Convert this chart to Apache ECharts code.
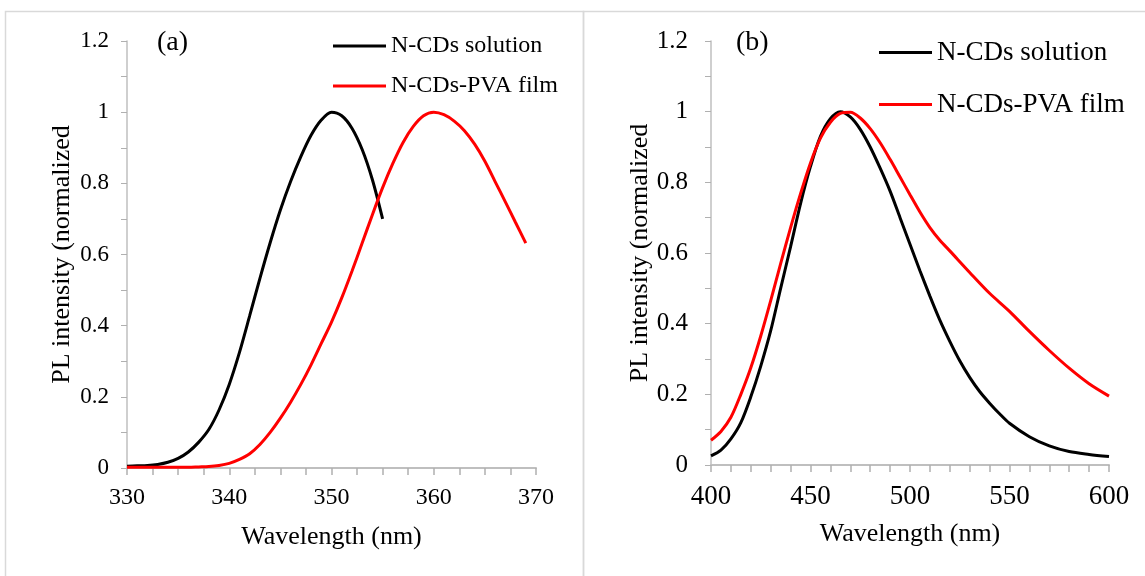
<!DOCTYPE html>
<html>
<head>
    <meta charset="utf-8">
    <title>PL spectra</title>
    <script src="https://cdn.jsdelivr.net/npm/echarts@6/dist/echarts.min.js"></script>
    <style>
        html, body { margin: 0; padding: 0; background: #fff; }
    </style>
</head>
<body>
    <div id="chart" style="width: 1145px; height: 576px;"></div>

    <script>
        // (a) excitation spectra
        const aWlSolution = [330,331,332,333,334,335,336,337,338,339,340,341,342,343,344,345,346,347,348,349,350,351,352,353,354,355];
        const aSolution = [0.005,0.006,0.007,0.010,0.016,0.027,0.045,0.072,0.108,0.163,0.235,0.325,0.428,0.533,0.633,0.725,0.805,0.875,0.935,0.978,1.0,0.99,0.955,0.895,0.81,0.70];
        const aWlFilm = [330,332,334,336,337,338,339,340,341,342,343,344,345,346,347,348,349,350,351,352,353,354,355,356,357,358,359,360,361,362,363,364,365,366,367,368,369];
        const aFilm = [0.002,0.002,0.002,0.002,0.003,0.004,0.007,0.013,0.024,0.04,0.066,0.10,0.14,0.185,0.235,0.29,0.35,0.41,0.478,0.553,0.632,0.712,0.788,0.856,0.915,0.96,0.99,1.0,0.993,0.975,0.948,0.91,0.862,0.805,0.748,0.69,0.632];

        // (b) emission spectra
        const bWlSolution = [400,405,410,415,420,425,430,435,440,445,450,455,460,465,470,475,480,485,490,495,500,505,510,515,520,525,530,535,540,545,550,560,570,580,590,600];
        const bSolution = [0.026,0.042,0.074,0.12,0.193,0.28,0.38,0.5,0.618,0.74,0.845,0.93,0.98,1.0,0.985,0.95,0.9,0.84,0.775,0.70,0.625,0.55,0.478,0.41,0.35,0.295,0.248,0.208,0.175,0.145,0.118,0.08,0.054,0.038,0.03,0.024];
        const bWlFilm = [400,405,410,415,420,425,430,435,440,445,450,455,460,465,470,475,480,485,490,495,500,505,510,515,520,530,540,550,560,570,580,590,600];
        const bFilm = [0.07,0.095,0.135,0.2,0.275,0.365,0.465,0.57,0.672,0.768,0.855,0.925,0.97,0.995,0.998,0.982,0.952,0.912,0.865,0.815,0.765,0.716,0.672,0.636,0.606,0.545,0.486,0.435,0.378,0.324,0.274,0.23,0.195];

        const seriesNames = ['N-CDs solution', 'N-CDs-PVA film'];
        const panelLabels = ['(a)', '(b)'];

        const FONT = 'Liberation Serif';
        const AXIS_GRAY = '#bfbfbf';
        const TICK_GRAY = '#b0b0b0';

        const pairs = (xs, ys) => xs.map((x, i) => [x, ys[i]]);
        const fmt = v => String(Math.round(v * 10) / 10);

        function xAxisFor(gridIndex, min, max, interval, minorSplit, labelSize, margin) {
            return {
                type: 'value', gridIndex, min, max, interval,
                position: 'bottom', z: 1,
                name: 'Wavelength (nm)', nameLocation: 'middle', nameGap: 56,
                nameTextStyle: { fontFamily: FONT, fontSize: 26, color: '#000' },
                axisLine: { show: true, onZero: false, lineStyle: { color: AXIS_GRAY, width: 2 } },
                axisTick: { show: true, length: 7, lineStyle: { color: TICK_GRAY, width: 1.5 } },
                minorTick: { show: true, splitNumber: minorSplit, length: 7, lineStyle: { color: TICK_GRAY, width: 1.5 } },
                axisLabel: { fontFamily: FONT, fontSize: labelSize, color: '#000', margin },
                splitLine: { show: false }
            };
        }

        function yAxisFor(gridIndex, labelSize, gap, margin) {
            return {
                type: 'value', gridIndex, min: 0, max: 1.2, interval: 0.2,
                name: 'PL intensity (normalized', nameLocation: 'middle', nameGap: gap,
                nameTextStyle: { fontFamily: FONT, fontSize: 26, color: '#000' },
                axisLine: { show: true, lineStyle: { color: AXIS_GRAY, width: 1.5 } },
                axisTick: { show: true, length: 6, lineStyle: { color: TICK_GRAY } },
                minorTick: { show: true, splitNumber: 2, length: 6, lineStyle: { color: TICK_GRAY } },
                axisLabel: { fontFamily: FONT, fontSize: labelSize, color: '#000', margin, formatter: fmt },
                splitLine: { show: false }
            };
        }

        function line(name, data, color, idx) {
            return {
                name, type: 'line', data, xAxisIndex: idx, yAxisIndex: idx,
                smooth: 0.3, symbol: 'none', showSymbol: false,
                lineStyle: { color, width: 3 }, itemStyle: { color },
                z: color === '#ff0000' ? 3 : 2
            };
        }

        const chart = echarts.init(document.getElementById('chart'), null, { renderer: 'canvas' });

        const option = {
            backgroundColor: '#fff',
            animation: false,
            grid: [
                { left: 127, top: 41, width: 409, height: 427 },
                { left: 711, top: 41, width: 398, height: 424 }
            ],
            xAxis: [
                xAxisFor(0, 330, 370, 10, 4, 24, 18),
                xAxisFor(1, 400, 600, 50, 5, 27, 18)
            ],
            yAxis: [
                yAxisFor(0, 23, 52, 18),
                yAxisFor(1, 25, 52, 23)
            ],
            legend: [
                {
                    data: seriesNames, orient: 'vertical', left: 333, top: 34, padding: 0,
                    icon: 'rect', itemWidth: 53, itemHeight: 3, itemGap: 16,
                    selectedMode: false,
                    textStyle: { fontFamily: FONT, fontSize: 24, lineHeight: 24, color: '#000' }
                },
                {
                    data: seriesNames, orient: 'vertical', left: 879, top: 39, padding: 0,
                    icon: 'rect', itemWidth: 53, itemHeight: 3, itemGap: 25,
                    selectedMode: false,
                    textStyle: { fontFamily: FONT, fontSize: 27, lineHeight: 27, color: '#000' }
                }
            ],
            graphic: [
                { type: 'rect', shape: { x: 5.5, y: 11.5, width: 578, height: 620 }, style: { fill: 'none', stroke: '#d9d9d9', lineWidth: 1.5 }, silent: true },
                { type: 'rect', shape: { x: 583.5, y: 11.5, width: 620, height: 620 }, style: { fill: 'none', stroke: '#d9d9d9', lineWidth: 1.5 }, silent: true },
                { type: 'text', left: 157, top: 29, style: { text: panelLabels[0], font: '28px "Liberation Serif"', fill: '#000' } },
                { type: 'text', left: 736, top: 29, style: { text: panelLabels[1], font: '28px "Liberation Serif"', fill: '#000' } }
            ],
            series: [
                line(seriesNames[0], pairs(aWlSolution, aSolution), '#000000', 0),
                line(seriesNames[1], pairs(aWlFilm, aFilm), '#ff0000', 0),
                line(seriesNames[0], pairs(bWlSolution, bSolution), '#000000', 1),
                line(seriesNames[1], pairs(bWlFilm, bFilm), '#ff0000', 1)
            ]
        };

        chart.setOption(option);
    </script>
</body>
</html>
